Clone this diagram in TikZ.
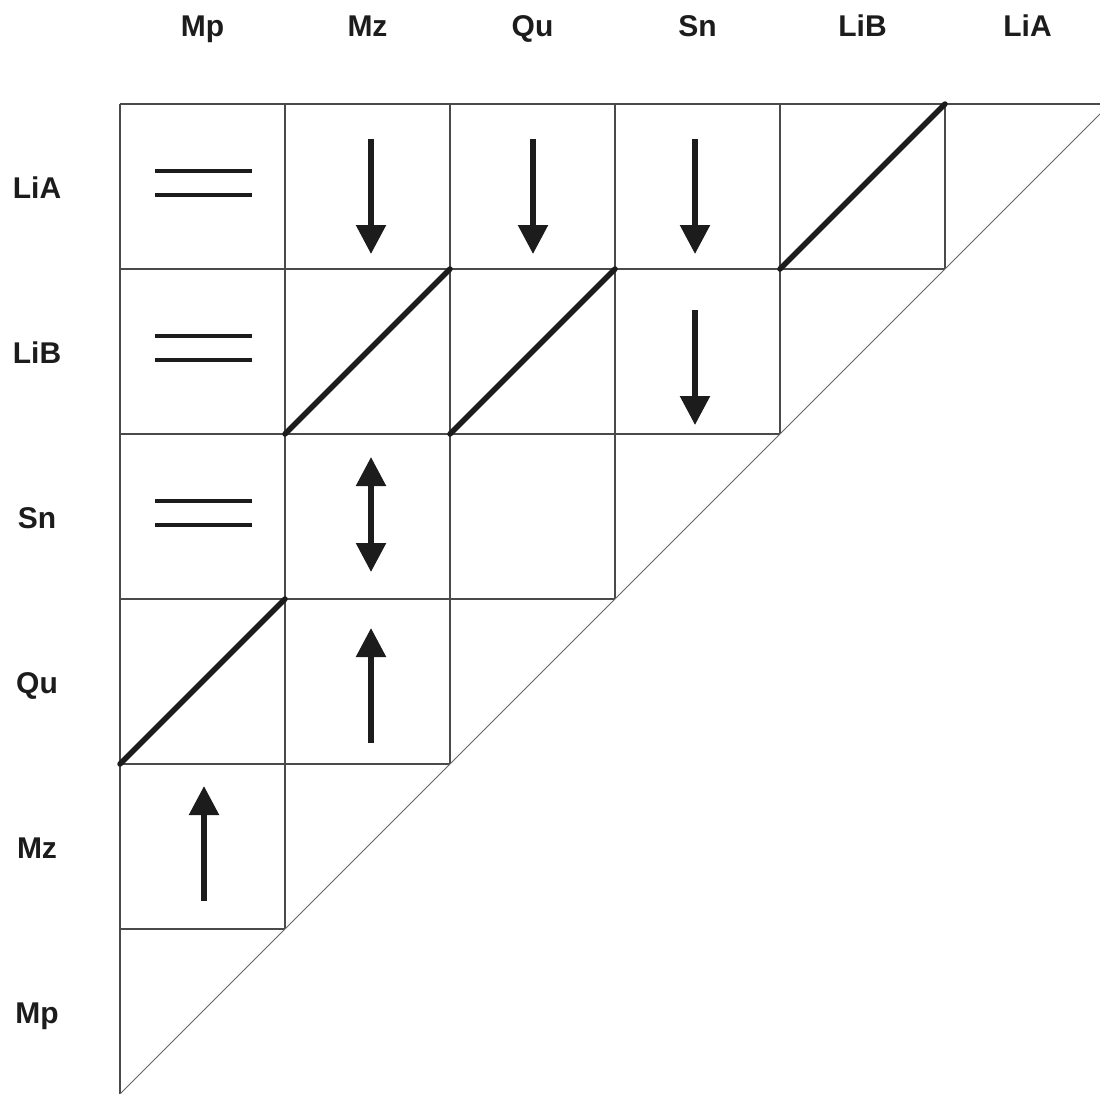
\documentclass[tikz,border=0pt]{standalone}
\usepackage{fontspec}
\setmainfont{Liberation Sans}
\usetikzlibrary{arrows.meta}
\definecolor{ink}{HTML}{1C1C1C}
\definecolor{rule}{HTML}{4A4A4A}
\tikzset{
  gridline/.style={draw=rule, line width=1.5pt},
  hypot/.style={draw=rule!85, line width=1pt},
  label/.style={font=\fontsize{30}{30}\selectfont\bfseries, text=ink, inner sep=0pt, anchor=base},
  eqbar/.style={draw=ink, line width=4pt},
  slash/.style={draw=ink, line width=5.5pt, line cap=round},
  flow/.style={draw=ink, line width=5.5pt, -{Triangle[length=29pt,width=29pt]}},
  flowboth/.style={draw=ink, line width=5.5pt, {Triangle[length=29pt,width=29pt]}-{Triangle[length=29pt,width=29pt]}},
}
\begin{document}
\begin{tikzpicture}[x=1pt, y=-1pt]
\useasboundingbox (0,0) rectangle (1100,1093);

% column headings
\foreach \t [count=\i from 0] in {Mp,Mz,Qu,Sn,LiB,LiA}
  \node[label] (col\t) at (202.5+165*\i,36) {\t};
% row headings
\foreach \t [count=\i from 0] in {LiA,LiB,Sn,Qu,Mz,Mp}
  \node[label] (row\t) at (37,198+165*\i) {\t};

% grid corners: g<c><r> at column line c, row line r
\foreach \c in {0,...,6}
  \foreach \r in {0,...,6}
    \coordinate (g\c\r) at (120+165*\c,104+165*\r);
\coordinate (hypEnd) at (1100,114);

% staircase grid
\draw[gridline] (g00) -- (1100,104);
\draw[gridline] (g00) -- (g06);
\draw[gridline] (g01) -- (g51);
\draw[gridline] (g02) -- (g42);
\draw[gridline] (g03) -- (g33);
\draw[gridline] (g04) -- (g24);
\draw[gridline] (g05) -- (g15);
\draw[gridline] (g10) -- (g15);
\draw[gridline] (g20) -- (g24);
\draw[gridline] (g30) -- (g33);
\draw[gridline] (g40) -- (g42);
\draw[gridline] (g50) -- (g51);
\draw[hypot] (g06) -- (hypEnd);

% equal signs (Mp column)
\foreach \r/\y in {0/104,1/269,2/434} {
  \draw[eqbar] (155,\y+67) -- (252,\y+67);
  \draw[eqbar] (155,\y+91) -- (252,\y+91);
}

% diagonal marks
\draw[slash] (g41) -- (g50);
\draw[slash] (g12) -- (g21);
\draw[slash] (g22) -- (g31);
\draw[slash] (g04) -- (g13);

% arrow ends
\coordinate (a1s) at (371,139); \coordinate (a1e) at (371,254);
\coordinate (a2s) at (533,139); \coordinate (a2e) at (533,254);
\coordinate (a3s) at (695,139); \coordinate (a3e) at (695,254);
\coordinate (a4s) at (695,310); \coordinate (a4e) at (695,425);
\coordinate (a5s) at (371,457); \coordinate (a5e) at (371,572);
\coordinate (a6s) at (371,743); \coordinate (a6e) at (371,628);
\coordinate (a7s) at (204,901); \coordinate (a7e) at (204,786);

\draw[flow] (a1s) -- (a1e);
\draw[flow] (a2s) -- (a2e);
\draw[flow] (a3s) -- (a3e);
\draw[flow] (a4s) -- (a4e);
\draw[flowboth] (a5s) -- (a5e);
\draw[flow] (a6s) -- (a6e);
\draw[flow] (a7s) -- (a7e);
\end{tikzpicture}
\end{document}
